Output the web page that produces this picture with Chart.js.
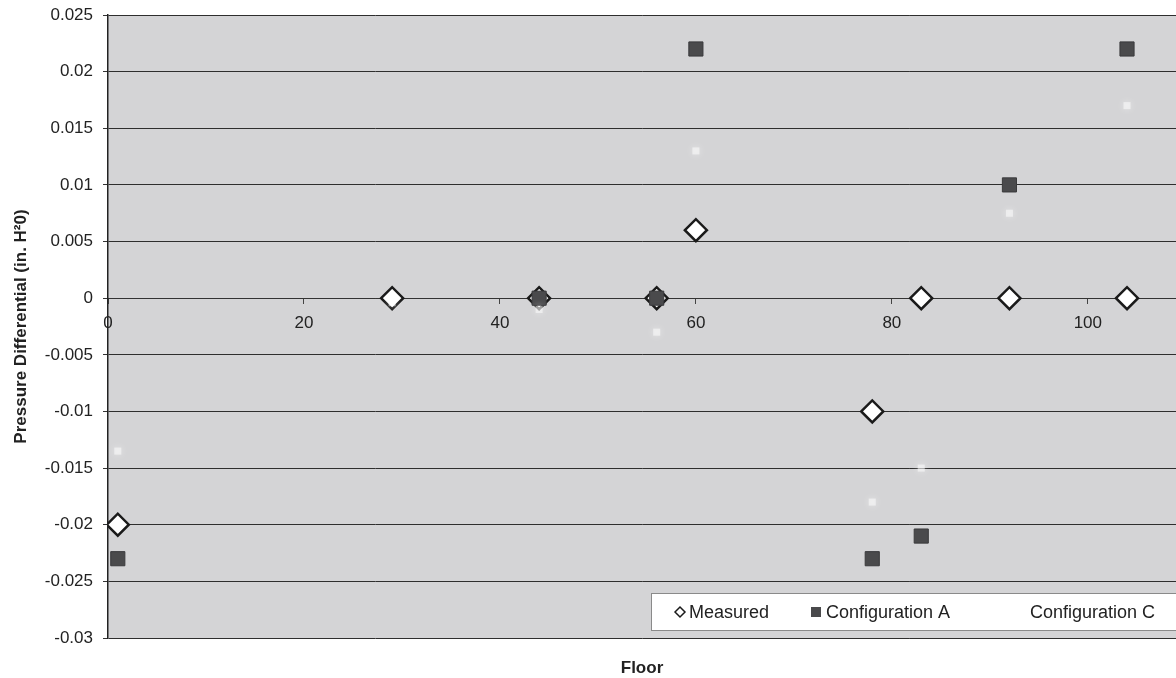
<!DOCTYPE html>
<html><head><meta charset="utf-8">
<script src="https://cdn.jsdelivr.net/npm/chart.js@4/dist/chart.umd.min.js"></script>
<style>html,body{margin:0;padding:0;background:#fff}#wrap{width:1176px;height:678px;position:relative}canvas{display:block}</style>
</head><body><div id="wrap"><canvas id="c" width="1176" height="678" style="width:1176px;height:678px"></canvas></div>
<script>
// ---- data ----
const measuredFloors = [1, 29, 44, 56, 60, 78, 83, 92, 104];
const measuredValues = [-0.02, 0, 0, 0, 0.006, -0.01, 0, 0, 0];
const configAFloors = [1, 44, 56, 60, 78, 83, 92, 104];
const configAValues = [-0.023, 0, 0, 0.022, -0.023, -0.021, 0.01, 0.022];
const configCFloors = [1, 29, 44, 56, 60, 78, 83, 92, 104];
const configCValues = [-0.0135, -0.0004, -0.001, -0.003, 0.013, -0.018, -0.015, 0.0075, 0.017];
const seriesNames = ['Measured', 'Configuration A', 'Configuration C'];
const yTickValues = [0.025, 0.02, 0.015, 0.01, 0.005, 0, -0.005, -0.01, -0.015, -0.02, -0.025, -0.03];
const xTickValues = [0, 20, 40, 60, 80, 100];
const xTitle = 'Floor';
const yTitle = 'Pressure Differential (in. H\u00B20)';

const toPts = (xs, ys) => xs.map((x, i) => ({x: x, y: ys[i]}));
const FONT = "'Liberation Sans', Arial, sans-serif";

const bgPlugin = {
  id: 'plotBg',
  beforeDraw(chart) {
    const a = chart.chartArea, ctx = chart.ctx;
    ctx.save();
    ctx.fillStyle = '#d4d4d6';
    ctx.fillRect(a.left, a.top, a.right - a.left, a.bottom - a.top);
    ctx.restore();
  }
};

const glowPlugin = {
  id: 'glow',
  beforeDatasetDraw(chart, args) {
    if (args.index === 2) {
      chart.ctx.save();
      chart.ctx.shadowColor = 'rgba(255,255,255,0.9)';
      chart.ctx.shadowBlur = 7;
    }
  },
  afterDatasetDraw(chart, args) {
    if (args.index === 2) chart.ctx.restore();
  }
};

const textPlugin = {
  id: 'texts',
  afterDraw(chart) {
    const a = chart.chartArea, ctx = chart.ctx;
    ctx.save();
    ctx.fillStyle = '#222';
    ctx.font = 'bold 17px ' + FONT;
    ctx.textAlign = 'center';
    ctx.textBaseline = 'middle';
    ctx.fillText(xTitle, (a.left + a.right) / 2, 668);
    ctx.translate(21, (a.top + a.bottom) / 2);
    ctx.rotate(-Math.PI / 2);
    ctx.fillText(yTitle, 0, 0);
    ctx.restore();

    // legend box
    const ds = chart.data.datasets;
    const x0 = 651, y0 = 593, x1 = a.right, y1 = a.bottom - 7;
    const cy = (y0 + y1) / 2;
    ctx.save();
    ctx.fillStyle = '#ffffff';
    ctx.fillRect(x0, y0, x1 - x0, y1 - y0);
    ctx.strokeStyle = '#8a8a8a';
    ctx.lineWidth = 1;
    ctx.strokeRect(x0 + 0.5, y0 + 0.5, x1 - x0, y1 - y0 - 1);
    ctx.font = '18px ' + FONT;
    ctx.textBaseline = 'middle';
    ctx.textAlign = 'left';
    const items = [{mx: 680, tx: 689}, {mx: 816, tx: 826}, {mx: 1020, tx: 1030}];
    items.forEach((it, i) => {
      const d = ds[i];
      ctx.save();
      ctx.fillStyle = d.pointBackgroundColor;
      ctx.strokeStyle = d.pointBorderColor;
      ctx.lineWidth = 1.5;
      if (i === 0) {
        const r = 5;
        ctx.beginPath();
        ctx.moveTo(it.mx - r, cy); ctx.lineTo(it.mx, cy - r); ctx.lineTo(it.mx + r, cy); ctx.lineTo(it.mx, cy + r); ctx.closePath();
        ctx.fill(); ctx.stroke();
      } else if (i === 1) {
        ctx.fillRect(it.mx - 5, cy - 5, 10, 10);
      } else {
        ctx.fillRect(it.mx - 4, cy - 4, 8, 8);
      }
      ctx.restore();
      ctx.fillStyle = '#222';
      ctx.fillText(d.label, it.tx, cy + 1);
    });
    ctx.restore();
  }
};

new Chart(document.getElementById('c'), {
  type: 'scatter',
  data: {
    datasets: [
      {
        label: seriesNames[0], data: toPts(measuredFloors, measuredValues),
        pointStyle: 'rectRot', pointRadius: 11, pointHoverRadius: 11,
        pointBackgroundColor: '#ffffff', pointBorderColor: '#1a1a1a', pointBorderWidth: 2.5,
        order: 3
      },
      {
        label: seriesNames[1], data: toPts(configAFloors, configAValues),
        pointStyle: 'rect', pointRadius: 10, pointHoverRadius: 10,
        pointBackgroundColor: '#4a4a4c', pointBorderColor: '#3a3a3c', pointBorderWidth: 1,
        order: 2
      },
      {
        label: seriesNames[2], data: toPts(configCFloors, configCValues),
        pointStyle: 'rect', pointRadius: 5, pointHoverRadius: 5,
        pointBackgroundColor: 'rgba(255,255,255,0.5)', pointBorderColor: 'rgba(255,255,255,0)', pointBorderWidth: 0,
        order: 1
      }
    ]
  },
  options: {
    responsive: false,
    maintainAspectRatio: false,
    animation: false,
    devicePixelRatio: 1,
    layout: {autoPadding: false, padding: {left: 0, right: 0, top: 15, bottom: 40}},
    plugins: {legend: {display: false}, tooltip: {enabled: false}},
    scales: {
      x: {
        type: 'linear', position: {y: 0}, min: 0, max: 109,
        afterBuildTicks: s => { s.ticks = xTickValues.map(v => ({value: v})); },
        afterFit: s => { s.paddingLeft = 0; s.paddingRight = 0; },
        grid: {drawOnChartArea: false, drawTicks: true, tickLength: 5, color: '#444'},
        border: {color: '#333', width: 1},
        ticks: {font: {family: FONT, size: 17}, color: '#222', padding: 10, maxRotation: 0, autoSkip: false}
      },
      y: {
        type: 'linear', position: 'left', min: -0.03, max: 0.025,
        afterBuildTicks: s => { s.ticks = yTickValues.map(v => ({value: v})); },
        afterFit: s => { s.width = 108; s.paddingTop = 0; s.paddingBottom = 0; },
        grid: {color: '#2e2e2e', lineWidth: 1, drawTicks: true, tickLength: 5, tickColor: '#333'},
        border: {color: '#222', width: 1.5},
        ticks: {font: {family: FONT, size: 17}, color: '#222', padding: 10,
                callback: v => String(Number(v.toFixed(3)))}
      }
    }
  },
  plugins: [bgPlugin, glowPlugin, textPlugin]
});
</script>
</body></html>
